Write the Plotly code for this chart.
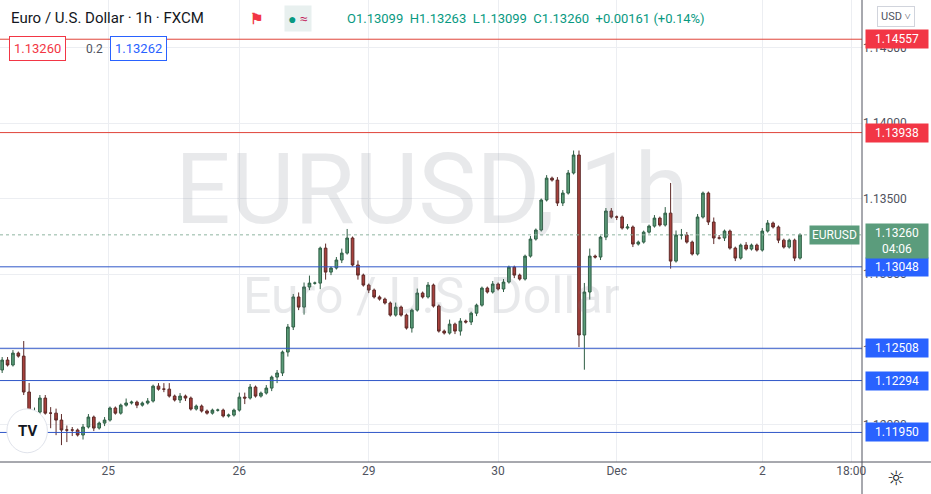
import plotly.graph_objects as go

# --- data (EURUSD, 1h, FXCM) ---
closes = [
    1.12430, 1.12397, 1.12476, 1.12456, 1.12218, 1.12078, 1.12085, 1.12178, 1.12078, 1.12078,
    1.12032, 1.11966, 1.11966, 1.11966, 1.11933, 1.11986, 1.12052, 1.11979, 1.12012, 1.12032,
    1.12112, 1.12078, 1.12131, 1.12145, 1.12151, 1.12131, 1.12145, 1.12158, 1.12257, 1.12237,
    1.12237, 1.12191, 1.12165, 1.12191, 1.12178, 1.12105, 1.12125, 1.12092, 1.12078, 1.12098,
    1.12098, 1.12059, 1.12065, 1.12098, 1.12184, 1.12178, 1.12251, 1.12191, 1.12211, 1.12244,
    1.12317, 1.12344, 1.12483, 1.12649, 1.12848, 1.12781, 1.12914, 1.12940, 1.12940, 1.13172,
    1.13013, 1.13040, 1.13093, 1.13139, 1.13239, 1.13060, 1.12993, 1.12927, 1.12894, 1.12848,
    1.12834, 1.12808, 1.12728, 1.12781, 1.12728, 1.12642, 1.12761, 1.12874, 1.12848, 1.12927,
    1.12788, 1.12622, 1.12609, 1.12668, 1.12622, 1.12688, 1.12682, 1.12741, 1.12794, 1.12907,
    1.12881, 1.12934, 1.12901, 1.12947, 1.13046, 1.12993, 1.12967, 1.13119, 1.13232, 1.13292,
    1.13491, 1.13636, 1.13623, 1.13471, 1.13537, 1.13670, 1.13789, 1.12596, 1.12881, 1.13119,
    1.13113, 1.13245, 1.13418, 1.13378, 1.13378, 1.13305, 1.13312, 1.13199, 1.13212, 1.13278,
    1.13318, 1.13371, 1.13325, 1.13404, 1.13086, 1.13259, 1.13259, 1.13212, 1.13133, 1.13378,
    1.13537, 1.13345, 1.13239, 1.13239, 1.13285, 1.13172, 1.13106, 1.13192, 1.13166, 1.13192,
    1.13159, 1.13285, 1.13338, 1.13312, 1.13225, 1.13179, 1.13225, 1.13106, 1.13260,
]
first_open = 1.12364

# wick lengths in pips (upper above body, lower below body)
upper_pips = [
    2, 2, 2, 1, 10, 6, 3, 2, 2, 4, 3, 4, 3, 2, 1, 2, 2, 1, 1, 2,
    1, 1, 1, 3, 1, 1, 1, 2, 1, 2, 4, 4, 1, 2, 1, 1, 1, 1, 1, 1,
    1, 1, 1, 1, 3, 3, 2, 1, 1, 2, 1, 2, 1, 2, 2, 3, 3, 5, 1, 1,
    3, 1, 2, 3, 6, 1, 3, 1, 1, 1, 1, 1, 1, 3, 1, 1, 1, 3, 1, 2,
    1, 1, 1, 3, 1, 2, 1, 1, 1, 1, 1, 2, 1, 2, 1, 1, 1, 1, 2, 1,
    1, 2, 1, 2, 2, 2, 3, 3, 6, 5, 1, 1, 2, 2, 1, 1, 2, 1, 1, 1,
    1, 2, 1, 4, 20, 3, 4, 2, 1, 2, 1, 1, 3, 2, 1, 1, 1, 1, 2, 1,
    1, 2, 2, 1, 1, 1, 1, 1, 1,
]
lower_pips = [
    2, 1, 1, 1, 2, 3, 4, 3, 1, 10, 10, 10, 8, 4, 1, 3, 1, 2, 1, 2,
    1, 1, 1, 1, 1, 2, 1, 1, 1, 1, 2, 1, 1, 2, 2, 1, 1, 1, 1, 1,
    1, 1, 1, 1, 1, 4, 1, 1, 1, 1, 2, 4, 2, 3, 2, 2, 5, 2, 1, 4,
    5, 2, 1, 2, 1, 1, 3, 1, 2, 1, 1, 1, 1, 1, 1, 1, 3, 1, 1, 1,
    1, 1, 1, 1, 2, 3, 1, 2, 2, 1, 1, 1, 1, 2, 1, 2, 1, 1, 1, 1,
    1, 1, 1, 2, 2, 1, 1, 8, 23, 5, 1, 2, 2, 1, 2, 1, 1, 2, 1, 1,
    1, 1, 1, 1, 5, 1, 3, 1, 1, 1, 1, 2, 4, 1, 2, 1, 2, 1, 1, 1,
    1, 1, 1, 1, 2, 1, 1, 2, 1,
]

tick_pos = [19.7, 44, 68, 92, 114, 141, 157.5]
tick_text = ["25", "26", "29", "30", "Dec", "2", "18:00"]
price_ticks = [1.12, 1.125, 1.13, 1.135, 1.14, 1.145]

red_levels = [1.14557, 1.13938]
blue_levels = [1.13048, 1.12508, 1.12294, 1.11950]
last_price = 1.13260

opens = [first_open] + closes[:-1]
highs = [max(o, c) + u / 10000 for o, c, u in zip(opens, closes, upper_pips)]
lows = [min(o, c) - d / 10000 for o, c, d in zip(opens, closes, lower_pips)]
idx = list(range(len(closes)))

fig = go.Figure()
fig.add_trace(go.Candlestick(
    x=idx, open=opens, high=highs, low=lows, close=closes,
    increasing=dict(fillcolor="#5a9c78", line=dict(color="#2f5e45", width=1)),
    decreasing=dict(fillcolor="#a8403c", line=dict(color="#5e2a28", width=1)),
    whiskerwidth=0, showlegend=False, hoverinfo="skip",
))

shapes = []
for p in red_levels:
    shapes.append(dict(type="line", xref="paper", x0=0, x1=1, y0=p, y1=p,
                       line=dict(color="#e0443a", width=1)))
for p in blue_levels:
    shapes.append(dict(type="line", xref="paper", x0=0, x1=1, y0=p, y1=p,
                       line=dict(color="#2f57c8", width=1)))
shapes.append(dict(type="line", xref="paper", x0=0, x1=1, y0=last_price, y1=last_price,
                   line=dict(color="#8fb5a1", width=1, dash="dot")))
# axis borders
shapes.append(dict(type="line", xref="paper", yref="paper", x0=1, x1=1, y0=-0.07, y1=1,
                   line=dict(color="#50535e", width=1)))
shapes.append(dict(type="line", xref="paper", yref="paper", x0=0, x1=1.08, y0=0, y1=0,
                   line=dict(color="#50535e", width=1)))
# TradingView logo circle
shapes.append(dict(type="circle", xref="paper", yref="paper", x0=0.008, x1=0.055, y0=0.02, y1=0.115,
                   line=dict(color="#e0e3eb", width=1), fillcolor="white"))

anns = []
def axis_label(p, text, color, y_shift=0):
    anns.append(dict(xref="paper", x=1.003, y=p, yref="y", xanchor="left", yanchor="middle",
                     text=text, showarrow=False, bgcolor=color, borderpad=2, yshift=y_shift,
                     font=dict(family="Roboto", size=12, color="white"), width=58, align="center"))

for p in red_levels:
    axis_label(p, f"{p:.5f}", "#f23645")
for p in blue_levels:
    axis_label(p, f"{p:.5f}", "#2962ff")
axis_label(last_price, f"{last_price:.5f}<br>04:06", "#5b9c7c", y_shift=-6)
anns.append(dict(xref="paper", x=0.998, y=last_price, xanchor="right", yanchor="middle",
                 text="EURUSD", showarrow=False, bgcolor="#5b9c7c", borderpad=2,
                 font=dict(family="Roboto", size=12, color="white")))

# watermarks
anns.append(dict(xref="paper", yref="paper", x=0.5, y=0.59, text="EURUSD, 1h", showarrow=False,
                 font=dict(family="Roboto", size=98, color="rgba(120,123,134,0.17)")))
anns.append(dict(xref="paper", yref="paper", x=0.5, y=0.36, text="Euro / U.S. Dollar", showarrow=False,
                 font=dict(family="Roboto", size=50, color="rgba(120,123,134,0.17)")))

# header
anns.append(dict(xref="paper", yref="paper", x=0.01, y=0.96, xanchor="left", yanchor="middle",
                 text="Euro / U.S. Dollar · 1h · FXCM", showarrow=False,
                 font=dict(family="Roboto", size=15, color="#131722")))
anns.append(dict(xref="paper", yref="paper", x=0.288, y=0.96, xanchor="left", yanchor="middle",
                 text="<b>⚑</b>", showarrow=False, font=dict(size=15, color="#f23645")))
anns.append(dict(xref="paper", yref="paper", x=0.33, y=0.96, xanchor="left", yanchor="middle",
                 text="<span style='color:#089981'>●</span> <span style='color:#c2185b'>≈</span>",
                 showarrow=False, bgcolor="#e8f0ef", borderpad=3, font=dict(size=14)))
anns.append(dict(xref="paper", yref="paper", x=0.40, y=0.96, xanchor="left", yanchor="middle",
                 text="O1.13099  H1.13263  L1.13099  C1.13260  +0.00161 (+0.14%)", showarrow=False,
                 font=dict(family="Roboto", size=13, color="#089981")))
anns.append(dict(xref="paper", yref="paper", x=0.01, y=0.895, xanchor="left", yanchor="middle",
                 text="1.13260", showarrow=False, bordercolor="#f23645", borderwidth=1, borderpad=4,
                 bgcolor="white", font=dict(family="Roboto", size=13, color="#f23645")))
anns.append(dict(xref="paper", yref="paper", x=0.098, y=0.895, xanchor="left", yanchor="middle",
                 text="0.2", showarrow=False, font=dict(family="Roboto", size=12, color="#50535e")))
anns.append(dict(xref="paper", yref="paper", x=0.128, y=0.895, xanchor="left", yanchor="middle",
                 text="1.13262", showarrow=False, bordercolor="#2962ff", borderwidth=1, borderpad=4,
                 bgcolor="white", font=dict(family="Roboto", size=13, color="#2962ff")))
# top right currency button and settings icon
anns.append(dict(xref="paper", yref="paper", x=1.04, y=0.965, xanchor="center", yanchor="middle",
                 text="USD ˅", showarrow=False, bordercolor="#d1d4dc", borderwidth=1, borderpad=3,
                 bgcolor="white", font=dict(family="Roboto", size=11, color="#50535e")))
anns.append(dict(xref="paper", yref="paper", x=1.04, y=-0.035, xanchor="center", yanchor="middle",
                 text="☼", showarrow=False, font=dict(family="DejaVu Sans", size=20, color="#131722")))
anns.append(dict(xref="paper", yref="paper", x=0.0315, y=0.067, xanchor="center", yanchor="middle",
                 text="<b>TV</b>", showarrow=False,
                 font=dict(family="Roboto", size=15, color="#131722")))

fig.update_layout(
    width=931, height=494,
    margin=dict(l=0, r=69, t=0, b=32),
    paper_bgcolor="white", plot_bgcolor="white",
    xaxis=dict(range=[-0.4, 159.5], tickvals=tick_pos, ticktext=tick_text,
               showgrid=True, gridcolor="#eceef2", rangeslider=dict(visible=False),
               tickfont=dict(family="Roboto", size=12, color="#50535e"), ticks="", zeroline=False),
    yaxis=dict(range=[1.11754, 1.14817], side="right", tickvals=price_ticks,
               ticktext=[f"{t:.5f}" for t in price_ticks], showgrid=True, gridcolor="#eceef2",
               tickfont=dict(family="Roboto", size=12, color="#50535e"), ticks="", zeroline=False),
    shapes=shapes, annotations=anns,
)

fig.write_html("out.html", config={"displayModeBar": False},
               post_script="document.body.style.margin='0';")
